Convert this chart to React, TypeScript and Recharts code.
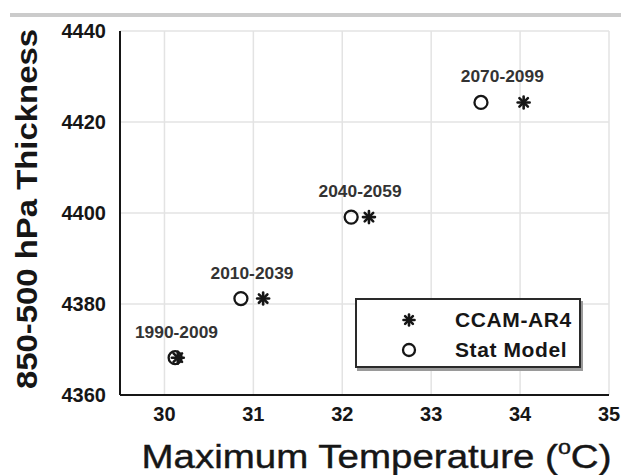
import React from 'react';
import {
    ScatterChart,
    Scatter,
    XAxis,
    YAxis,
    CartesianGrid,
    Legend
} from 'recharts';

// periods shown above each pair of markers
const periods = ['1990-2009', '2010-2039', '2040-2059', '2070-2099'];
// maximum temperature (deg C)
const statModelTemp = [30.12, 30.86, 32.1, 33.56];
const ccamTemp = [30.15, 31.11, 32.3, 34.04];
// 850-500 hPa thickness
const thickness = [4368.2, 4381.2, 4399.1, 4424.3];

const xTicks = [30, 31, 32, 33, 34, 35];
const yTicks = [4360, 4380, 4400, 4420, 4440];

const FONT = '"Liberation Sans", Arial, Helvetica, sans-serif';
const INK = '#161616';

const statData = periods.map((p, i) => ({ period: p, temp: statModelTemp[i], thick: thickness[i] }));
const ccamData = periods.map((p, i) => ({ period: p, temp: ccamTemp[i], thick: thickness[i] }));
const labelData = periods.map((p, i) => ({
    period: p,
    temp: (statModelTemp[i] + ccamTemp[i]) / 2,
    thick: thickness[i]
}));

const Asterisk = ({ cx, cy, r = 6 }: any) => {
    if (cx == null || cy == null) return null;
    const arms = [0, 45, 90, 135];
    return (
        <g>
            {arms.map(a => {
                const rad = (a * Math.PI) / 180;
                const dx = Math.cos(rad) * r;
                const dy = Math.sin(rad) * r;
                return (
                    <line
                        key={a}
                        x1={cx - dx}
                        y1={cy - dy}
                        x2={cx + dx}
                        y2={cy + dy}
                        stroke={INK}
                        strokeWidth={2.6}
                        strokeLinecap="round"
                    />
                );
            })}
        </g>
    );
};

const OpenCircle = ({ cx, cy, r = 6.5 }: any) => {
    if (cx == null || cy == null) return null;
    return <circle cx={cx} cy={cy} r={r} fill="none" stroke={INK} strokeWidth={2.3} />;
};

const PeriodLabel = ({ cx, cy, payload }: any) => {
    if (cx == null || cy == null) return null;
    return (
        <text
            x={cx}
            y={cy - 20}
            textAnchor="middle"
            fontFamily={FONT}
            fontWeight="bold"
            fontSize={16}
            fill="#333"
            textLength={83}
            lengthAdjust="spacingAndGlyphs"
        >
            {payload.period}
        </text>
    );
};

const XLabel = ({ viewBox }: any) => {
    const cx = viewBox.x + viewBox.width / 2 + 12;
    return (
        <text
            x={cx}
            y={viewBox.y + 73}
            textAnchor="middle"
            fontFamily={FONT}
            fontSize={33}
            fill={INK}
            stroke={INK}
            strokeWidth={0.4}
            textLength={470}
            lengthAdjust="spacingAndGlyphs"
        >
            Maximum Temperature (
            <tspan fontSize={20} dy={-14}>o</tspan>
            <tspan dy={14}>C)</tspan>
        </text>
    );
};

const YLabel = ({ viewBox }: any) => {
    const cx = 27;
    const cy = viewBox.y + viewBox.height / 2 - 4;
    return (
        <text
            x={cx}
            y={cy}
            transform={`rotate(-90 ${cx} ${cy})`}
            textAnchor="middle"
            dominantBaseline="central"
            fontFamily={FONT}
            fontWeight="bold"
            fontSize={29}
            fill={INK}
            textLength={360}
            lengthAdjust="spacingAndGlyphs"
        >
            850-500 hPa Thickness
        </text>
    );
};

const LegendBox = () => (
    <div
        style={{
            width: 222,
            height: 66,
            border: '2px solid #2a2a2a',
            boxShadow: '2px 3px 0 #9a9a9a',
            background: '#fff',
            fontFamily: FONT,
            fontWeight: 'bold',
            fontSize: 21,
            color: INK,
            position: 'relative'
        }}
    >
        {[
            { name: 'CCAM-AR4', Shape: Asterisk, top: 8 },
            { name: 'Stat Model', Shape: OpenCircle, top: 38 }
        ].map(item => (
            <div key={item.name} style={{ position: 'absolute', left: 0, top: item.top, height: 24, width: '100%' }}>
                <svg width={30} height={24} style={{ position: 'absolute', left: 37, top: 0 }}>
                    <item.Shape cx={15} cy={12} r={item.name === 'CCAM-AR4' ? 5.5 : 6} />
                </svg>
                <span
                    style={{
                        position: 'absolute',
                        left: 98,
                        top: 0,
                        lineHeight: '24px',
                        whiteSpace: 'nowrap',
                        letterSpacing: 0.6
                    }}
                >
                    {item.name}
                </span>
            </div>
        ))}
    </div>
);

export default function App() {
    return (
        <div style={{ position: 'absolute', left: 0, top: 0, width: 621, height: 475, background: '#fff' }}>
            <div style={{ position: 'absolute', left: 10, top: 13, width: 611, height: 4, background: '#cbcbcb' }} />
            <ScatterChart
                width={621}
                height={475}
                margin={{ top: 31, right: 12, left: 0, bottom: 0 }}
                style={{ fontFamily: FONT }}
            >
                <CartesianGrid stroke="#e3e3e3" strokeWidth={1.5} />
                <XAxis
                    type="number"
                    dataKey="temp"
                    domain={[29.5, 35]}
                    ticks={xTicks}
                    allowDataOverflow
                    height={80}
                    axisLine={{ stroke: INK, strokeWidth: 2 }}
                    tickLine={false}
                    tickSize={0}
                    tickMargin={12}
                    tick={{ fill: INK, fontSize: 20, fontWeight: 'bold', fontFamily: FONT }}
                    label={{ content: XLabel }}
                />
                <YAxis
                    type="number"
                    dataKey="thick"
                    domain={[4360, 4440]}
                    ticks={yTicks}
                    allowDataOverflow
                    width={120}
                    axisLine={{ stroke: INK, strokeWidth: 2 }}
                    tickLine={false}
                    tickSize={0}
                    tickMargin={14}
                    tick={{ fill: INK, fontSize: 20, fontWeight: 'bold', fontFamily: FONT }}
                    label={{ content: YLabel }}
                />
                <Legend
                    layout="horizontal"
                    verticalAlign="middle"
                    align="center"
                    content={LegendBox}
                    wrapperStyle={{ left: 355, top: 298, width: 226, height: 70 }}
                />
                <Scatter
                    name="Stat Model"
                    data={statData}
                    shape={OpenCircle}
                    isAnimationActive={false}
                />
                <Scatter
                    name="CCAM-AR4"
                    data={ccamData}
                    shape={Asterisk}
                    isAnimationActive={false}
                />
                <Scatter
                    name="labels"
                    data={labelData}
                    shape={PeriodLabel}
                    legendType="none"
                    isAnimationActive={false}
                />
            </ScatterChart>
        </div>
    );
}
